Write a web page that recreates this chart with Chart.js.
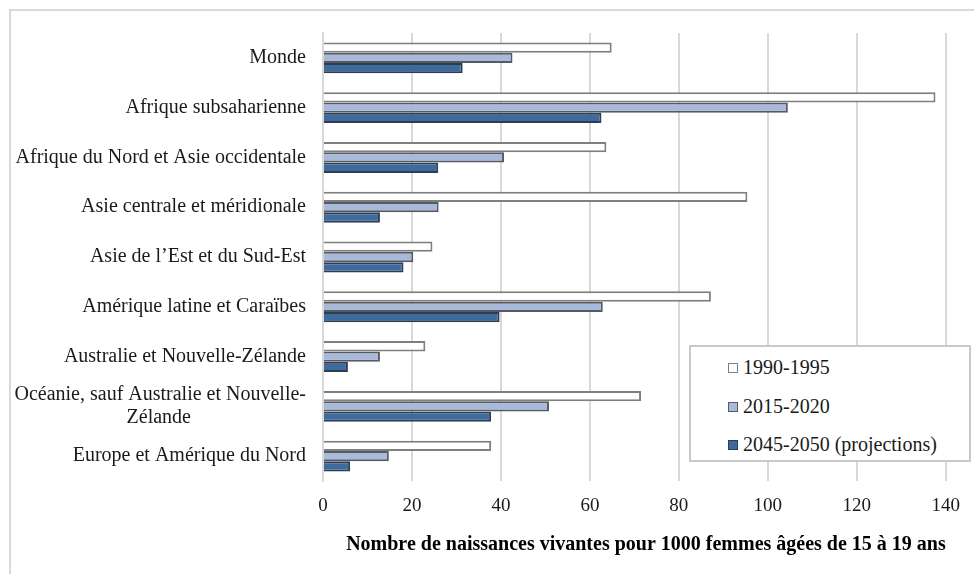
<!DOCTYPE html>
<html lang="fr">
<head>
<meta charset="utf-8">
<title>Taux de natalité des adolescentes</title>
<script src="https://cdn.jsdelivr.net/npm/chart.js@4.4.1/dist/chart.umd.min.js"></script>
<style>
    body { margin: 0; background: #fff; }
    #cadre {
        position: absolute; left: 9px; top: 9px; width: 965px; height: 565px;
        border-top: 2px solid #d9d9d9; border-left: 2px solid #d9d9d9;
    }
    #zone { position: absolute; left: 0; top: 0; width: 974px; height: 574px; }
    #legende {
        position: absolute; left: 689px; top: 345px; width: 278px; height: 113px;
        border: 2px solid #c9c9c9; background: #fff;
        font-family: 'Liberation Serif', serif; font-size: 20px; color: #1a1a1a;
    }
    #legende div { position: absolute; left: 37px; height: 24px; line-height: 24px; white-space: nowrap; }
    #legende span {
        display: inline-block; width: 8px; height: 8px; margin-right: 5px;
        vertical-align: 1px; border: 1px solid #777;
    }
</style>
</head>
<body>
<div id="cadre"></div>
<div id="zone"><canvas id="graphique" width="974" height="574"></canvas></div>
<div id="legende"></div>
<script>
// Régions
const categories = [
    'Monde',
    'Afrique subsaharienne',
    'Afrique du Nord et Asie occidentale',
    'Asie centrale et méridionale',
    'Asie de l’Est et du Sud-Est',
    'Amérique latine et Caraïbes',
    'Australie et Nouvelle-Zélande',
    ['Océanie, sauf Australie et Nouvelle-', 'Zélande'],
    'Europe et Amérique du Nord'
];

// Naissances pour 1000 femmes de 15 à 19 ans
const serie1990 = [64.9, 137.7, 63.7, 95.4, 24.6, 87.2, 23.0, 71.5, 37.8];
const serie2015 = [42.6, 104.5, 40.7, 26.0, 20.3, 62.9, 12.8, 50.8, 14.8];
const serie2045 = [31.4, 62.6, 25.9, 12.8, 18.1, 39.7, 5.6, 37.8, 6.1];

const nomsSeries = ['1990-1995', '2015-2020', '2045-2050 (projections)'];
const xTicks = [0, 20, 40, 60, 80, 100, 120, 140];

const fonds = ['#ffffff', '#a9b9d9', '#3e6a9e'];
const bords = ['#7f7f7f', '#555a63', '#2e3e52'];

// Légende dans le cadre
const legende = document.getElementById('legende');
nomsSeries.forEach((nom, i) => {
    const ligne = document.createElement('div');
    ligne.style.top = (8 + i * 38.5) + 'px';
    ligne.innerHTML = `<span style="background:${fonds[i]};border-color:${bords[i]}"></span>${nom}`;
    legende.appendChild(ligne);
});

const police = { family: "'Liberation Serif', serif", size: 20 };

const ctx = document.getElementById('graphique').getContext('2d');
new Chart(ctx, {
    type: 'bar',
    data: {
        labels: categories,
        datasets: [serie1990, serie2015, serie2045].map((data, i) => ({
            label: nomsSeries[i],
            data: data,
            backgroundColor: fonds[i],
            borderColor: bords[i],
            borderWidth: 2,
            categoryPercentage: 0.62,
            barPercentage: 1.0
        }))
    },
    options: {
        indexAxis: 'y',
        responsive: false,
        animation: false,
        layout: { padding: { top: 33, right: 17, left: 0, bottom: 0 } },
        plugins: {
            legend: { display: false },
            tooltip: { enabled: false }
        },
        scales: {
            x: {
                min: 0,
                max: 140,
                afterBuildTicks: axis => { axis.ticks = xTicks.map(v => ({ value: v })); },
                afterFit: axis => { axis.height = 93; },
                grid: { color: '#d9d9d9', lineWidth: 2, drawTicks: false },
                border: { display: false },
                ticks: { color: '#1a1a1a', padding: 14, font: { ...police, size: 19 } },
                title: {
                    display: true,
                    align: 'end',
                    text: 'Nombre de naissances vivantes pour 1000 femmes âgées de 15 à 19 ans',
                    color: '#000',
                    font: { ...police, size: 20, weight: 'bold' },
                    padding: { top: 0, bottom: 17 }
                }
            },
            y: {
                afterFit: axis => { axis.width = 323; },
                grid: { display: false, drawTicks: false },
                border: { display: true, color: '#d9d9d9', width: 2 },
                ticks: {
                    color: '#1a1a1a',
                    padding: 17,
                    font: { ...police, lineHeight: 1.15 },
                    // seconde ligne centrée sous la première
                    callback: function (value) {
                        const lab = this.getLabelForValue(value);
                        if (Array.isArray(lab)) {
                            return [lab[0], lab[1] + ' '.repeat(23)];
                        }
                        return lab;
                    }
                }
            }
        }
    }
});
</script>
</body>
</html>
